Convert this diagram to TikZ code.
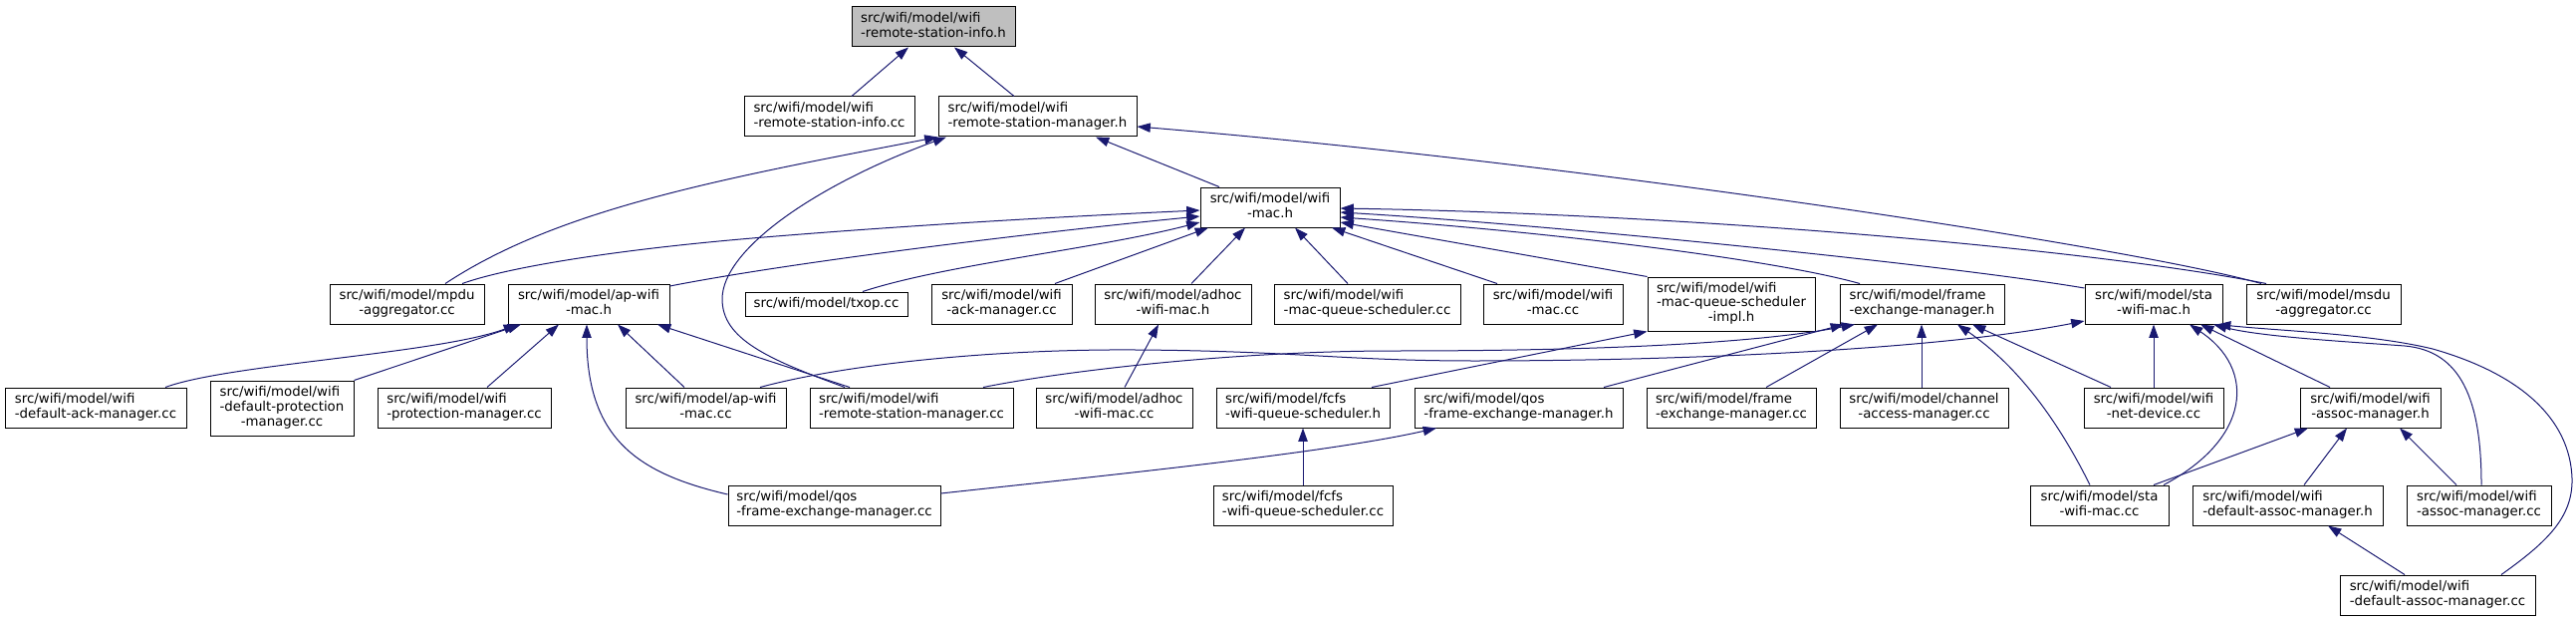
\documentclass[tikz,border=0pt]{standalone}
\usepackage{fontspec}
\setmainfont{DejaVu Sans}
\usetikzlibrary{arrows.meta}
\definecolor{edgeblue}{HTML}{191970}
\definecolor{rootgray}{HTML}{BFBFBF}
\newcommand\twol[2]{\begin{tabular}{@{}l@{}}#1\\\multicolumn{1}{@{}c@{}}{#2}\end{tabular}}
\newcommand\threel[3]{\begin{tabular}{@{}l@{}}#1\\#2\\\multicolumn{1}{@{}c@{}}{#3}\end{tabular}}
\newcommand\bx[7][]{\node[box,#1,minimum width={(#5-#3)*0.75pt},minimum height={(#6-#4)*0.75pt}] (#2) at ({(#3+#5)/2},{(#4+#6)/2}) {#7};}
\begin{document}
\begin{tikzpicture}[x=0.75pt,y=-0.75pt,
  box/.style={draw=black,line width=0.75pt,fill=white,inner sep=0pt,font=\fontsize{10}{11}\selectfont},
  edge/.style={draw=edgeblue,line width=0.75pt,-{Triangle[length=10pt,width=7pt]}}]
\useasboundingbox (0,0) rectangle (2586,624);
% row 1
\bx[fill=rootgray]{root}{855}{7}{1019}{47}{\twol{src/wifi/model/wifi}{-remote-station-info.h}}
% row 2
\bx{rsicc}{747}{97}{918}{137}{\twol{src/wifi/model/wifi}{-remote-station-info.cc}}
\bx{rsmh}{942}{97}{1141}{137}{\twol{src/wifi/model/wifi}{-remote-station-manager.h}}
% row 3
\bx{wifimach}{1205}{188}{1345}{228}{\twol{src/wifi/model/wifi}{-mac.h}}
% row 4
\bx{mpdu}{331}{285}{486}{325}{\twol{src/wifi/model/mpdu}{-aggregator.cc}}
\bx{apwifih}{510}{285}{672}{325}{\twol{src/wifi/model/ap-wifi}{-mac.h}}
\bx{txop}{748}{293}{911}{317}{src/wifi/model/txop.cc}
\bx{ackcc}{935}{285}{1076}{325}{\twol{src/wifi/model/wifi}{-ack-manager.cc}}
\bx{adhoch}{1099}{285}{1256}{325}{\twol{src/wifi/model/adhoc}{-wifi-mac.h}}
\bx{mqscc}{1279}{285}{1466}{325}{\twol{src/wifi/model/wifi}{-mac-queue-scheduler.cc}}
\bx{maccc}{1489}{285}{1629}{325}{\twol{src/wifi/model/wifi}{-mac.cc}}
\bx{mqsih}{1654}{278}{1822}{332}{\threel{src/wifi/model/wifi}{-mac-queue-scheduler}{-impl.h}}
\bx{femh}{1847}{285}{2012}{325}{\twol{src/wifi/model/frame}{-exchange-manager.h}}
\bx{stah}{2093}{285}{2231}{325}{\twol{src/wifi/model/sta}{-wifi-mac.h}}
\bx{msdu}{2255}{285}{2410}{325}{\twol{src/wifi/model/msdu}{-aggregator.cc}}
% row 5
\bx{dackcc}{5}{389}{187}{429}{\twol{src/wifi/model/wifi}{-default-ack-manager.cc}}
\bx{dprotcc}{211}{382}{355}{437}{\threel{src/wifi/model/wifi}{-default-protection}{-manager.cc}}
\bx{protcc}{379}{389}{553}{429}{\twol{src/wifi/model/wifi}{-protection-manager.cc}}
\bx{apwificc}{628}{389}{789}{429}{\twol{src/wifi/model/ap-wifi}{-mac.cc}}
\bx{rsmcc}{813}{389}{1017}{429}{\twol{src/wifi/model/wifi}{-remote-station-manager.cc}}
\bx{adhoccc}{1040}{389}{1197}{429}{\twol{src/wifi/model/adhoc}{-wifi-mac.cc}}
\bx{fcfsh}{1221}{389}{1395}{429}{\twol{src/wifi/model/fcfs}{-wifi-queue-scheduler.h}}
\bx{qosh}{1420}{389}{1629}{429}{\twol{src/wifi/model/qos}{-frame-exchange-manager.h}}
\bx{femcc}{1653}{389}{1823}{429}{\twol{src/wifi/model/frame}{-exchange-manager.cc}}
\bx{camcc}{1847}{389}{2016}{429}{\twol{src/wifi/model/channel}{-access-manager.cc}}
\bx{netdevcc}{2092}{389}{2232}{429}{\twol{src/wifi/model/wifi}{-net-device.cc}}
\bx{assoch}{2309}{389}{2450}{429}{\twol{src/wifi/model/wifi}{-assoc-manager.h}}
% row 6
\bx{qoscc}{731}{487}{944}{527}{\twol{src/wifi/model/qos}{-frame-exchange-manager.cc}}
\bx{fcfscc}{1218}{487}{1398}{527}{\twol{src/wifi/model/fcfs}{-wifi-queue-scheduler.cc}}
\bx{stacc}{2038}{487}{2177}{527}{\twol{src/wifi/model/sta}{-wifi-mac.cc}}
\bx{dassoch}{2201}{487}{2392}{527}{\twol{src/wifi/model/wifi}{-default-assoc-manager.h}}
\bx{assoccc}{2416}{487}{2561}{527}{\twol{src/wifi/model/wifi}{-assoc-manager.cc}}
% row 7
\bx{dassoccc}{2349}{577}{2545}{617}{\twol{src/wifi/model/wifi}{-default-assoc-manager.cc}}

% edges to root
\draw[edge] (rsicc.north -| 855,0) -- (root.south -| 912,0);
\draw[edge] (rsmh.north -| 1018,0) -- (root.south -| 958,0);
% edges to rsmh
\draw[edge] (mpdu.north -| 447,0) .. controls (560,210) and (720,180) .. (rsmh.south west);
\draw[edge] (rsmcc.north -| 848,0) .. controls (770,360) and (725,340) .. (725,300) .. controls (725,250) and (820,185) .. (rsmh.south -| 950,0);
\draw[edge] (wifimach.north -| 1224,0) -- (rsmh.south -| 1100,0);
\draw[edge] (msdu.north -| 2270,0) .. controls (2150,250) and (1600,165) .. (rsmh.east |- 0,127);
% edges to wifimach
\draw[edge] (mpdu.north -| 464,0) .. controls (510,268) and (620,250) .. (767,238) .. controls (900,227) and (1050,218) .. (wifimach.west |- 0,211);
\draw[edge] (apwifih.east |- 0,287) .. controls (800,262) and (1050,232) .. (wifimach.west |- 0,217);
\draw[edge] (txop.north -| 866,0) .. controls (950,265) and (1100,250) .. (wifimach.west |- 0,223);
\draw[edge] (ackcc.north -| 1059,0) -- (wifimach.south -| 1213,0);
\draw[edge] (adhoch.north -| 1196,0) -- (wifimach.south -| 1250,0);
\draw[edge] (mqscc.north -| 1353,0) -- (wifimach.south -| 1300,0);
\draw[edge] (maccc.north -| 1503,0) -- (wifimach.south -| 1337,0);
\draw[edge] (mqsih.north west) -- (wifimach.east |- 0,223);
\draw[edge] (femh.north -| 1867,0) .. controls (1780,260) and (1550,232) .. (wifimach.east |- 0,218);
\draw[edge] (stah.west |- 0,289) .. controls (1950,265) and (1550,225) .. (wifimach.east |- 0,213);
\draw[edge] (msdu.north -| 2275,0) .. controls (2100,250) and (1700,215) .. (wifimach.east |- 0,209);
% edges to apwifih
\draw[edge] (dackcc.north -| 166,0) .. controls (230,365) and (440,355) .. (apwifih.south -| 519,0);
\draw[edge] (dprotcc.north east) -- (apwifih.south -| 523,0);
\draw[edge] (protcc.north -| 489,0) -- (apwifih.south -| 561,0);
\draw[edge] (apwificc.north -| 687,0) -- (apwifih.south -| 620,0);
\draw[edge] (rsmcc.north -| 853,0) -- (apwifih.south -| 660,0);
\draw[edge] (qoscc.west |- 0,496) .. controls (640,475) and (589,440) .. (apwifih.south -| 589,0);
% others
\draw[edge] (adhoccc.north -| 1129,0) -- (adhoch.south -| 1163,0);
\draw[edge] (fcfsh.north -| 1377,0) -- (mqsih.south west);
\draw[edge] (fcfscc.north -| 1308,0) -- (fcfsh.south -| 1308,0);
\draw[edge] (qoscc.east |- 0,495) .. controls (1100,478) and (1330,455) .. (qosh.south -| 1442,0);
% edges to femh
\draw[edge] (qosh.north -| 1610,0) -- (femh.south -| 1851,0);
\draw[edge] (femcc.north -| 1773,0) -- (femh.south -| 1885,0);
\draw[edge] (camcc.north -| 1929,0) -- (femh.south -| 1929,0);
\draw[edge] (netdevcc.north -| 2119,0) -- (femh.south -| 1980,0);
\draw[edge] (stacc.north -| 2098,0) .. controls (2070,430) and (2030,370) .. (femh.south -| 1965,0);
\draw[edge] (rsmcc.north -| 987,0) .. controls (1080,370) and (1250,352) .. (1400,352) .. controls (1600,352) and (1760,345) .. (femh.south -| 1862,0);
% edges to stah
\draw[edge] (apwificc.north -| 763,0) .. controls (850,365) and (1000,350) .. (1140,351) .. controls (1300,352) and (1350,362) .. (1480,362) .. controls (1700,362) and (1950,350) .. (stah.west |- 0,322);
\draw[edge] (netdevcc.north -| 2162,0) -- (stah.south -| 2162,0);
\draw[edge] (stacc.north -| 2172,0) .. controls (2260,440) and (2265,370) .. (stah.south -| 2198,0);
\draw[edge] (assoch.north -| 2339,0) -- (stah.south -| 2209,0);
\draw[edge] (assoccc.north -| 2491,0) .. controls (2491,400) and (2470,352) .. (2414,347) .. controls (2360,343) and (2270,338) .. (stah.south -| 2222,0);
\draw[edge] (dassoccc.north -| 2511,0) .. controls (2555,545) and (2583,520) .. (2582,480) .. controls (2580,420) and (2530,375) .. (2442,350) .. controls (2380,335) and (2290,332) .. (stah.south -| 2226,0);
% edges to assoch / dassoch
\draw[edge] (stacc.north -| 2162,0) -- (assoch.south -| 2317,0);
\draw[edge] (dassoch.north -| 2313,0) -- (assoch.south -| 2356,0);
\draw[edge] (assoccc.north -| 2466,0) -- (assoch.south -| 2409,0);
\draw[edge] (dassoccc.north -| 2414,0) -- (dassoch.south -| 2337,0);
\end{tikzpicture}
\end{document}
